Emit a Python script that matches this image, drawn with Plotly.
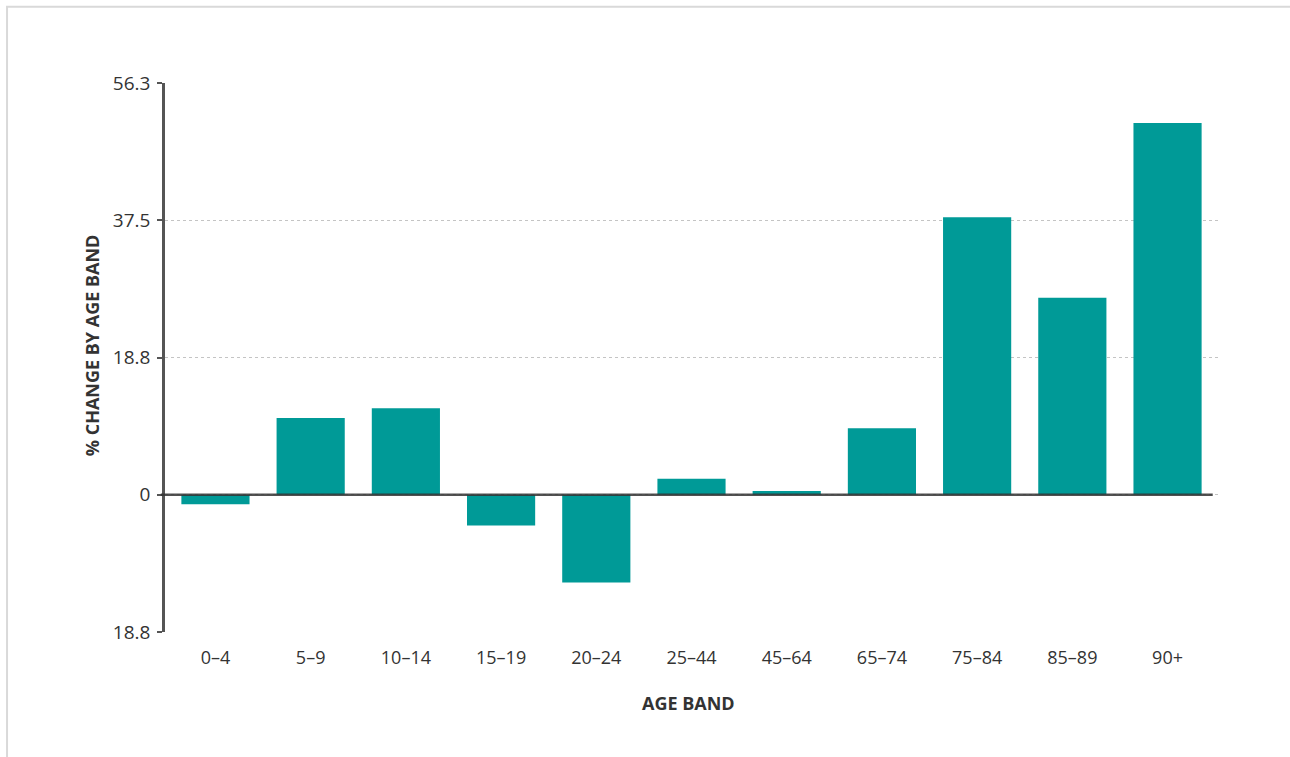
import plotly.graph_objects as go

# Percentage change by age band
age_bands = ["0–4", "5–9", "10–14", "15–19", "20–24", "25–44",
             "45–64", "65–74", "75–84", "85–89", "90+"]
pct_change = [-1.3, 10.5, 11.8, -4.2, -12.0, 2.2, 0.5, 9.1, 37.9, 26.9, 50.8]

# Y axis ticks (the lower label is printed without a sign)
y_tick_values = [-18.75, 0, 18.75, 37.5, 56.25]
y_tick_labels = ["18.8", "0", "18.8", "37.5", "56.3"]

BAR_COLOR = "#009a97"
AXIS_COLOR = "#555555"
TEXT_COLOR = "#333333"
FONT = "Open Sans"

fig = go.Figure(
    go.Bar(
        x=age_bands,
        y=pct_change,
        marker=dict(color=BAR_COLOR, line=dict(width=0)),
        hoverinfo="x+y",
    )
)

fig.update_layout(
    width=1290,
    height=757,
    margin=dict(l=165, r=72, t=83, b=125),
    paper_bgcolor="white",
    plot_bgcolor="white",
    bargap=0.284,
    showlegend=False,
    font=dict(family=FONT, color=TEXT_COLOR),
)

fig.update_xaxes(
    type="category",
    range=[-0.53, len(age_bands) - 0.47],
    showgrid=False,
    showline=False,
    zeroline=False,
    ticks="",
    tickfont=dict(size=18, color=TEXT_COLOR),
    ticklabelstandoff=13,
)

fig.update_yaxes(
    range=[-18.75, 56.25],
    tickvals=y_tick_values,
    ticktext=y_tick_labels,
    tickfont=dict(size=19, color=TEXT_COLOR),
    showgrid=True,
    gridcolor="#c4c4c4",
    gridwidth=1,
    griddash="dot",
    zeroline=False,
    showline=True,
    linecolor=AXIS_COLOR,
    linewidth=2.5,
    ticks="outside",
    ticklen=5,
    tickwidth=1.5,
    tickcolor=AXIS_COLOR,
    ticklabelstandoff=3,
)

# Baseline at zero drawn above the bars
fig.add_shape(
    type="line", xref="paper", yref="y",
    x0=-0.004, x1=0.995, y0=0, y1=0,
    line=dict(color="rgba(50,50,50,0.85)", width=2.5),
    layer="above",
)

# Outer frame
fig.add_shape(
    type="rect", xref="paper", yref="paper",
    x0=-0.150, x1=1.10, y0=-0.30, y1=1.139,
    line=dict(color="#d9d9d9", width=2),
    fillcolor="rgba(0,0,0,0)",
    layer="below",
)

# Axis titles
fig.add_annotation(
    text="<b>AGE BAND</b>", xref="paper", yref="paper",
    x=0.497, y=-0.129, xanchor="center", yanchor="middle",
    showarrow=False, font=dict(size=18, color=TEXT_COLOR, family=FONT),
)
fig.add_annotation(
    text="<b>% CHANGE BY AGE BAND</b>", xref="paper", yref="paper",
    x=-0.069, y=0.523, xanchor="center", yanchor="middle", textangle=-90,
    showarrow=False, font=dict(size=18, color=TEXT_COLOR, family=FONT),
)

fig.write_html("out.html")
